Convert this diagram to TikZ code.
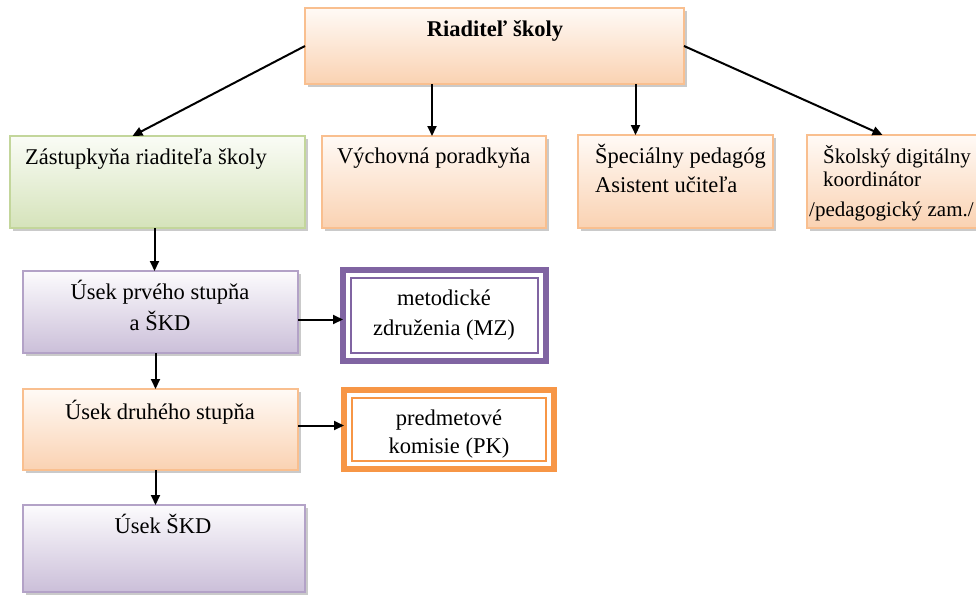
\documentclass[tikz,border=0pt]{standalone}
\usepackage{fontspec}
\setmainfont{Liberation Serif}
\usetikzlibrary{arrows.meta,shadows}
\definecolor{orB}{HTML}{F9BF8F}
\definecolor{orF}{HTML}{FAD2B2}
\definecolor{orT}{HTML}{FFFAF6}
\definecolor{grB}{HTML}{C3D69B}
\definecolor{grF}{HTML}{D5E3BA}
\definecolor{grT}{HTML}{FAFCF6}
\definecolor{puB}{HTML}{B3A2C7}
\definecolor{puF}{HTML}{CBBFD9}
\definecolor{puT}{HTML}{FCFBFD}
\definecolor{puD}{HTML}{8064A2}
\definecolor{orD}{HTML}{F79646}
\tikzset{
  gbox/.style={draw=#1B, line width=1.5pt, top color=#1T, bottom color=#1F,
    drop shadow={shadow xshift=3pt, shadow yshift=-3pt, fill=black!35, opacity=0.6}},
  anch/.style={inner sep=0pt, outer sep=0pt, anchor=north west},
  dbox/.style={draw=#1, line width=6pt, fill=white},
  innerline/.style={draw=#1, line width=1.3pt},
  lbl/.style={font=\fontsize{22.5}{28}\selectfont, inner sep=0pt},
  lbls/.style={font=\fontsize{21}{26}\selectfont, inner sep=0pt},
  arr/.style={line width=2pt, -{Triangle[length=10pt,width=9pt]}},
}
\begin{document}
\begin{tikzpicture}[x=1pt,y=-1pt]
\useasboundingbox (0,0) rectangle (976,594);
% boxes
\path[gbox=or] (305,8) rectangle (684,84);
\node[anch, minimum width=379pt, minimum height=76pt] (rd) at (305,8) {};
\path[gbox=gr] (10,136) rectangle (305,228);
\node[anch, minimum width=295pt, minimum height=92pt] (zr) at (10,136) {};
\path[gbox=or] (322,136) rectangle (546,228);
\node[anch, minimum width=224pt, minimum height=92pt] (vp) at (322,136) {};
\path[gbox=or] (578,135) rectangle (773,228);
\node[anch, minimum width=195pt, minimum height=93pt] (sp) at (578,135) {};
\path[gbox=or] (807,135) rectangle (980,228);
\node[anch, minimum width=173pt, minimum height=93pt] (dk) at (807,135) {};
\path[gbox=pu] (23,271) rectangle (298,353);
\node[anch, minimum width=275pt, minimum height=82pt] (u1) at (23,271) {};
\path[gbox=or] (23,389) rectangle (298,470);
\node[anch, minimum width=275pt, minimum height=81pt] (u2) at (23,389) {};
\path[gbox=pu] (23,505) rectangle (305,592);
\node[anch, minimum width=282pt, minimum height=87pt] (u3) at (23,505) {};
% double boxes
\node[dbox=puD, anch, minimum width=203pt, minimum height=91pt] (mz) at (343,270) {};
\draw[innerline=puD] ([shift={(8,8)}]mz.north west) rectangle ([shift={(-8,-8)}]mz.south east);
\node[dbox=orD, anch, minimum width=210pt, minimum height=79pt] (pk) at (344,390) {};
\draw[innerline=orD] ([shift={(8,8)}]pk.north west) rectangle ([shift={(-8,-8)}]pk.south east);
% texts
\node[lbl, anchor=base] (t1) at (495,37) {\bfseries Riaditeľ školy};
\node[lbl, anchor=base west] (t2) at (25,164) {Zástupkyňa riaditeľa školy};
\node[lbl, anchor=base west] (t3) at (337,163) {Výchovná poradkyňa};
\node[lbl, anchor=base west] (t4) at (595,163) {Špeciálny pedagóg};
\node[lbl, anchor=base west] (t5) at (595,192) {Asistent učiteľa};
\node[lbls, anchor=base west] (t6) at (823,163) {Školský digitálny};
\node[lbls, anchor=base west] (t7) at (823,186) {koordinátor};
\node[lbls, anchor=base west] (t8) at (809,216) {/pedagogický zam./};
\node[lbl, anchor=base] (t9) at (160,299) {Úsek prvého stupňa};
\node[lbl, anchor=base] (t10) at (160,330) {a ŠKD};
\node[lbl, anchor=base] (t11) at (444,305) {metodické};
\node[lbl, anchor=base] (t12) at (444,335) {združenia (MZ)};
\node[lbl, anchor=base] (t13) at (160,419) {Úsek druhého stupňa};
\node[lbl, anchor=base] (t14) at (449,425) {predmetové};
\node[lbl, anchor=base] (t15) at (449,453) {komisie (PK)};
\node[lbl, anchor=base] (t16) at (163,533) {Úsek ŠKD};
% arrows
\draw[arr] (rd.west) -- ([xshift=-25pt]zr.north);
\draw[arr] (rd.east) -- ([xshift=-11pt]dk.north);
\draw[arr] ([xshift=-2pt]vp.north |- rd.south) -- ([xshift=-2pt]vp.north);
\draw[arr] ([xshift=-40pt]sp.north |- rd.south) -- ([xshift=-40pt]sp.north);
\draw[arr] ([xshift=-3pt]zr.south) -- ([xshift=-3pt]zr.south |- u1.north);
\draw[arr] ([xshift=-5pt]u1.south) -- ([xshift=-5pt]u2.north);
\draw[arr] ([xshift=-5pt]u2.south) -- ([xshift=-5pt]u2.south |- u3.north);
\draw[arr] ([yshift=-4pt]mz.west -| u1.east) -- ([yshift=-4pt]mz.west);
\draw[arr] ([yshift=4pt]u2.east) -- ([yshift=4pt]u2.east -| pk.west);
\end{tikzpicture}
\end{document}
